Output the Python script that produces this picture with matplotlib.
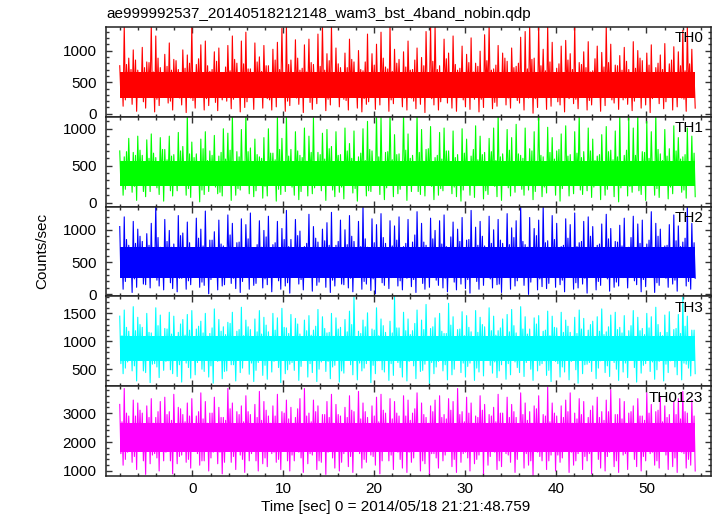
import numpy as np
import matplotlib
matplotlib.use("Agg")
import matplotlib.pyplot as plt
from matplotlib.ticker import MultipleLocator

plt.rcParams['font.family'] = ['Liberation Sans', 'DejaVu Sans']

title = "ae999992537_20140518212148_wam3_bst_4band_nobin.qdp"
xlabel = "Time [sec] 0 = 2014/05/18 21:21:48.759"
ylabel = "Counts/sec"

# light curve start time and sample step (sec)
# samples run: peak, shallow dip, shallow peak, deep dip, next peak ...
t_start = -8.0
t_step = 0.124

names = ["TH0", "TH1", "TH2", "TH3", "TH0123"]
colors = ["#ff0000", "#00ff00", "#0000ff", "#00ffff", "#ff00ff"]
ylims = [(-47, 1372), (-54, 1162), (-31, 1359), (196, 1804), (826, 3930)]
ymajor = [500, 500, 500, 500, 1000]
yminor = [100, 100, 100, 100, 200]
# dense part of each band (Counts/sec)
core = [(250, 660), (220, 560), (260, 730), (650, 1100), (1650, 2650)]

# ---- TH0 ----
th0_hi = [760, 1400, 880, 1010, 690, 1050, 820, 1400, 1230, 730, 940, 1120, 860, 700, 1010, 930,
          1400, 780, 1090, 1150, 670, 980, 1040, 620, 1080, 1230, 800, 1150, 1290, 710, 1120, 900,
          1080, 760, 1020, 1130, 1350, 1400, 850, 1170, 690, 1090, 1180, 780, 1260, 1400, 950, 1400,
          1040, 730, 960, 1180, 820, 1000, 680, 1260, 950, 1100, 1290, 740, 1400, 1020, 860, 980,
          1150, 700, 1040, 890, 1300, 1400, 1400, 760, 1180, 960, 1230, 690, 1070, 940, 1200, 800,
          990, 1250, 1400, 710, 1080, 960, 830, 1040, 750, 1210, 1300, 1400, 880, 1400, 1020, 1400,
          1130, 720, 1070, 1160, 950, 1400, 810, 980, 1140, 680, 1070, 970, 1400, 1100, 770, 920,
          1050, 700, 1140, 1000, 840, 960, 1090, 730, 930, 1110, 790, 1060, 980, 1320, 1400, 1020]
th0_mhi = [620, 780, 700, 850, 590, 730, 810, 660, 880, 610, 750, 690, 840, 570, 720, 800,
           650, 870, 600, 760, 700, 830, 580, 740, 680, 860, 620, 790, 710, 550, 820, 670,
           760, 600, 850, 700, 640, 780, 590, 880, 720, 660, 810, 570, 750, 690, 840, 610,
           790, 650, 730, 860, 580, 700, 820, 640, 770, 600, 880, 710, 670, 800, 560, 740,
           690, 850, 620, 760, 590, 830, 700, 650, 870, 610, 780, 720, 560, 810, 660, 750,
           600, 840, 690, 770, 630, 880, 570, 730, 800, 650, 710, 860, 590, 760, 680, 820,
           640, 790, 570, 850, 700, 620, 780, 730, 660, 870, 600, 740, 810, 580, 760, 690,
           830, 610, 720, 880, 650, 770, 590, 800, 700, 640, 850, 620, 760, 680, 790, 600]
th0_mlo = [300, 220, 380, 260, 410, 190, 340, 280, 230, 400, 310, 200, 360, 250, 420, 290,
           210, 370, 320, 240, 390, 180, 330, 270, 410, 230, 350, 300, 190, 380, 260, 340,
           400, 220, 310, 280, 360, 200, 420, 250, 330, 290, 180, 390, 270, 350, 230, 310,
           260, 400, 210, 340, 300, 380, 240, 190, 360, 320, 270, 410, 220, 350, 290, 250,
           370, 200, 330, 280, 410, 240, 310, 190, 390, 260, 350, 300, 220, 380, 270, 340,
           230, 400, 290, 180, 360, 320, 250, 410, 210, 330, 280, 370, 240, 300, 390, 260,
           350, 190, 320, 400, 270, 230, 380, 300, 210, 340, 260, 420, 290, 220, 360, 310,
           250, 390, 200, 330, 280, 370, 240, 410, 300, 190, 350, 270, 320, 230, 380, 290]
th0_lo = [120, 300, 150, 40, 260, 90, 360, 30, 130, 280, 170, 60, 330, 140, 20, 250,
          90, 310, 60, 130, 370, 50, 220, 200, 80, 340, 30, 100, 280, 70, 390, 90,
          240, 60, 110, 320, 40, 130, 290, 150, 20, 350, 70, 160, 260, 50, 140, 310,
          110, 230, 60, 380, 90, 30, 150, 300, 70, 140, 270, 40, 160, 330, 110, 60,
          250, 80, 150, 20, 360, 140, 60, 290, 170, 90, 40, 310, 110, 70, 230, 30,
          100, 350, 80, 120, 270, 140, 90, 330, 170, 60, 250, 10, 100, 380, 70, 120,
          290, 140, 30, 240, 160, 80, 340, 60, 140, 260, 40, 130, 300, 170, 70, 220,
          150, 50, 360, 90, 140, 20, 280, 160, 80, 320, 60, 110, 250, 40, 340, 90]

# ---- TH1 ----
th1_hi = [700, 620, 870, 680, 900, 640, 850, 930, 610, 880, 720, 900, 650, 950, 760, 1200,
          820, 660, 860, 960, 700, 910, 630, 1000, 940, 1200, 690, 990, 1200, 740, 860, 620,
          880, 1000, 670, 1180, 870, 1200, 720, 960, 640, 1010, 900, 1150, 680, 940, 990, 760,
          960, 650, 1010, 800, 970, 620, 1000, 1100, 700, 1200, 1150, 680, 1200, 920, 660, 1200,
          930, 640, 1200, 990, 720, 1030, 610, 950, 1010, 700, 970, 650, 1000, 860, 630, 1040,
          900, 680, 870, 1010, 1200, 660, 990, 880, 1060, 640, 1010, 730, 960, 1200, 620, 1020,
          880, 700, 930, 1040, 650, 960, 1200, 690, 1010, 860, 630, 920, 1030, 710, 970, 1200,
          640, 1150, 1010, 1200, 690, 1100, 960, 1200, 660, 990, 730, 1040, 880, 620, 1010, 900]
th1_mhi = [560, 690, 520, 640, 710, 490, 600, 670, 540, 720, 580, 630, 480, 700, 550, 660,
           610, 500, 730, 570, 640, 520, 680, 590, 710, 470, 620, 560, 690, 530, 650, 600,
           500, 670, 580, 720, 540, 630, 490, 700, 610, 560, 680, 520, 650, 590, 730, 480,
           640, 550, 700, 600, 510, 670, 570, 720, 530, 620, 490, 690, 580, 650, 540, 710,
           600, 520, 680, 560, 730, 500, 640, 590, 700, 550, 610, 480, 670, 530, 720, 580,
           650, 500, 690, 570, 620, 540, 710, 490, 660, 600, 530, 700, 560, 640, 510, 680,
           590, 720, 550, 630, 480, 670, 610, 530, 700, 570, 650, 520, 690, 580, 620, 500,
           710, 560, 640, 530, 680, 600, 490, 720, 570, 630, 540, 700, 590, 650, 520, 670]
th1_mlo = [260, 180, 340, 220, 300, 150, 370, 240, 200, 330, 270, 160, 310, 230, 380, 190,
           280, 350, 170, 250, 320, 210, 140, 360, 260, 300, 190, 340, 230, 280, 160, 370,
           220, 300, 250, 180, 350, 270, 210, 330, 150, 290, 360, 200, 260, 320, 240, 170,
           380, 210, 280, 340, 190, 250, 310, 160, 370, 230, 290, 200, 350, 260, 180, 320,
           240, 300, 150, 360, 270, 220, 330, 190, 280, 350, 210, 250, 170, 310, 370, 230,
           290, 160, 340, 220, 260, 380, 200, 300, 240, 180, 330, 270, 150, 350, 210, 290,
           250, 320, 190, 360, 230, 280, 170, 340, 260, 210, 300, 370, 180, 240, 330, 200,
           350, 220, 290, 160, 310, 260, 380, 190, 270, 330, 210, 250, 360, 170, 300, 240]
th1_lo = [100, 280, 140, 30, 320, 80, 150, 260, 110, 20, 340, 90, 160, 240, 100, 70,
          300, 10, 110, 150, 270, 120, 90, 330, 30, 100, 170, 290, 120, 80, 250, 60,
          90, 310, 20, 110, 150, 280, 100, 40, 340, 90, 120, 260, 160, 30, 300, 80,
          140, 50, 270, 130, 20, 320, 90, 150, 250, 110, 40, 290, 80, 120, 330, 30,
          150, 260, 110, 90, 300, 40, 100, 160, 270, 120, 80, 20, 340, 100, 70, 250,
          50, 110, 290, 80, 30, 320, 90, 140, 260, 100, 170, 40, 310, 80, 130, 240,
          100, 20, 280, 90, 120, 330, 110, 160, 70, 260, 40, 100, 300, 80, 10, 270,
          90, 140, 320, 110, 30, 250, 100, 70, 290, 50, 120, 340, 140, 60, 280, 80]

# ---- TH2 ----
th2_hi = [1050, 1200, 760, 1130, 1010, 820, 940, 1100, 1380, 730, 1160, 990, 780, 1220, 950, 1120,
          720, 1180, 1010, 1290, 840, 970, 1150, 750, 1230, 1100, 800, 1170, 1080, 1260, 710, 1140,
          990, 1210, 770, 1130, 1020, 1300, 850, 1160, 980, 740, 1240, 1050, 810, 1010, 1110, 1270,
          760, 1150, 1000, 1220, 820, 1130, 1380, 730, 1170, 1080, 1250, 790, 1140, 1060, 1200, 740,
          1160, 810, 1280, 1100, 760, 1180, 990, 1140, 1230, 720, 1120, 1010, 1190, 840, 1300, 1040,
          1130, 750, 1210, 1000, 1160, 790, 1250, 1030, 1140, 1380, 770, 1190, 1020, 1150, 1380, 830,
          1220, 1100, 740, 1170, 1080, 1260, 800, 1130, 1200, 1050, 760, 1090, 1240, 1020, 820, 1070,
          1180, 730, 1210, 1090, 1150, 780, 1280, 1100, 1010, 750, 1080, 1230, 1060, 810, 1380, 1100]
th2_mhi = [700, 850, 640, 790, 900, 620, 760, 680, 880, 600, 820, 730, 660, 910, 710, 800,
           630, 870, 750, 690, 840, 590, 780, 720, 920, 650, 810, 700, 860, 610, 770, 730,
           890, 660, 800, 620, 850, 740, 680, 910, 600, 790, 710, 870, 640, 830, 760, 690,
           820, 580, 770, 900, 650, 740, 860, 620, 800, 700, 880, 660, 750, 840, 610, 790,
           720, 920, 640, 810, 690, 860, 600, 780, 740, 890, 630, 820, 700, 850, 660, 760,
           900, 620, 790, 710, 840, 650, 770, 880, 590, 820, 730, 680, 910, 640, 800, 700,
           850, 610, 760, 870, 690, 740, 820, 630, 900, 670, 780, 720, 860, 600, 810, 750,
           690, 880, 640, 790, 720, 840, 610, 900, 700, 760, 650, 830, 740, 870, 620, 800]
th2_mlo = [280, 200, 370, 240, 320, 160, 400, 260, 220, 350, 300, 180, 390, 250, 330, 210,
           410, 270, 190, 340, 230, 380, 290, 150, 360, 250, 310, 200, 420, 270, 170, 330,
           240, 390, 300, 210, 350, 180, 280, 400, 230, 320, 260, 370, 190, 340, 290, 220,
           380, 160, 310, 250, 410, 270, 200, 350, 240, 300, 180, 390, 260, 330, 210, 370,
           290, 230, 400, 170, 340, 280, 220, 360, 250, 310, 190, 420, 270, 230, 350, 200,
           320, 380, 240, 290, 160, 370, 260, 330, 210, 400, 280, 190, 350, 240, 310, 170,
           390, 260, 220, 340, 300, 180, 410, 250, 280, 360, 200, 320, 240, 380, 190, 300,
           270, 350, 210, 400, 230, 330, 290, 180, 370, 250, 310, 220, 390, 260, 200, 340]
th2_lo = [80, 340, 30, 110, 280, 150, 100, 360, 130, 70, 300, 90, 40, 250, 80, 150,
          320, 110, 140, 10, 270, 70, 130, 350, 170, 90, 30, 290, 80, 140, 330, 100,
          150, 40, 260, 80, 130, 20, 310, 160, 70, 370, 50, 140, 280, 110, 30, 130,
          300, 150, 100, 40, 340, 80, 160, 60, 10, 270, 140, 90, 320, 130, 70, 250,
          120, 30, 290, 80, 110, 360, 140, 100, 40, 300, 70, 160, 90, 20, 330, 80,
          140, 260, 100, 150, 30, 310, 80, 130, 280, 140, 0, 350, 70, 120, 90, 270,
          110, 150, 40, 320, 80, 100, 160, 20, 290, 70, 140, 360, 50, 110, 130, 260,
          100, 300, 150, 40, 120, 340, 30, 140, 270, 110, 160, 50, 310, 130, 80, 250]

# ---- TH3 ----
th3_hi = [1450, 1560, 1180, 1620, 1430, 1250, 1500, 1150, 1600, 1470, 1230, 1520, 1450, 1160, 1390, 1480,
          1550, 1220, 1360, 1500, 1140, 1580, 1390, 1260, 1340, 1520, 1180, 1610, 1380, 1210, 1400, 1550,
          1430, 1170, 1500, 1420, 1590, 1240, 1480, 1410, 1130, 1380, 1460, 1200, 1570, 1440, 1150, 1500,
          1420, 1250, 1390, 1540, 1800, 1180, 1380, 1510, 1220, 1600, 1400, 1160, 1360, 1800, 1240, 1520,
          1400, 1190, 1560, 1380, 1660, 1230, 1420, 1500, 1140, 1680, 1440, 1210, 1530, 1460, 1170, 1550,
          1430, 1260, 1600, 1450, 1190, 1400, 1480, 1570, 1150, 1620, 1440, 1220, 1420, 1460, 1180, 1540,
          1450, 1240, 1520, 1380, 1160, 1430, 1560, 1410, 1200, 1360, 1440, 1580, 1170, 1470, 1520, 1250,
          1460, 1190, 1550, 1430, 1230, 1500, 1440, 1610, 1160, 1470, 1530, 1210, 1480, 1800, 1450, 1200]
th3_mhi = [1100, 1250, 1040, 1190, 1300, 1020, 1160, 1080, 1280, 1000, 1220, 1130, 1060, 1310, 1110, 1200,
           1030, 1270, 1150, 1090, 1240, 990, 1180, 1120, 1320, 1050, 1210, 1100, 1260, 1010, 1170, 1130,
           1290, 1060, 1200, 1020, 1250, 1140, 1080, 1310, 1000, 1190, 1110, 1270, 1040, 1230, 1160, 1090,
           1220, 980, 1170, 1300, 1050, 1140, 1260, 1020, 1200, 1100, 1280, 1060, 1150, 1240, 1010, 1190,
           1120, 1320, 1040, 1210, 1090, 1260, 1000, 1180, 1140, 1290, 1030, 1220, 1100, 1250, 1060, 1160,
           1300, 1020, 1190, 1110, 1240, 1050, 1170, 1280, 990, 1220, 1130, 1080, 1310, 1040, 1200, 1100,
           1250, 1010, 1160, 1270, 1090, 1140, 1220, 1030, 1300, 1070, 1180, 1120, 1260, 1000, 1210, 1150,
           1090, 1280, 1040, 1190, 1120, 1240, 1010, 1300, 1100, 1160, 1050, 1230, 1140, 1270, 1020, 1200]
th3_mlo = [600, 520, 720, 560, 680, 470, 750, 590, 540, 700, 640, 490, 760, 580, 690, 530,
           780, 620, 500, 710, 560, 740, 650, 460, 730, 580, 670, 520, 770, 610, 480, 690,
           570, 750, 640, 530, 710, 490, 620, 760, 550, 680, 600, 730, 500, 700, 640, 540,
           740, 470, 660, 580, 770, 610, 520, 710, 570, 650, 490, 750, 600, 690, 530, 720,
           640, 560, 760, 480, 700, 620, 540, 730, 580, 660, 500, 780, 610, 550, 710, 520,
           680, 740, 570, 630, 470, 720, 600, 690, 530, 760, 620, 500, 710, 570, 650, 480,
           750, 600, 540, 700, 640, 490, 770, 580, 620, 730, 520, 680, 560, 740, 500, 660,
           610, 710, 530, 760, 570, 690, 630, 490, 720, 590, 650, 540, 750, 610, 520, 700]
th3_lo = [420, 630, 470, 290, 680, 440, 260, 600, 350, 480, 650, 420, 370, 270, 610, 340,
          400, 690, 460, 360, 250, 640, 330, 470, 580, 290, 440, 670, 410, 280, 620, 390,
          320, 450, 660, 260, 420, 590, 480, 300, 700, 360, 440, 280, 630, 460, 330, 570,
          270, 430, 680, 400, 310, 470, 600, 260, 420, 650, 450, 300, 390, 620, 360, 290,
          670, 330, 460, 590, 250, 420, 640, 470, 310, 400, 690, 440, 360, 610, 300, 450,
          380, 660, 430, 350, 580, 320, 400, 630, 440, 370, 680, 300, 470, 600, 390, 280,
          640, 360, 450, 310, 690, 250, 420, 590, 460, 330, 650, 440, 370, 620, 300, 450,
          350, 670, 270, 430, 600, 460, 320, 640, 290, 440, 680, 400, 310, 590, 380, 420]

# ---- TH0123 ----
th0123_hi = [3300, 3850, 2900, 3450, 3350, 3000, 3250, 3500, 2850, 3400, 3550, 3050, 3650, 3200, 2950, 3350,
             3500, 2900, 3700, 3400, 3000, 3550, 3200, 2850, 3850, 3350, 3050, 3250, 3600, 2950, 3300, 3750,
             3400, 2900, 3250, 3650, 3050, 3450, 3200, 2850, 3500, 3850, 3000, 3450, 3250, 2950, 3400, 3650,
             3300, 2900, 3200, 3600, 3050, 3750, 3350, 2850, 3250, 3550, 3650, 3000, 3500, 3400, 2900, 3600,
             3450, 3000, 3700, 3350, 2850, 3250, 3450, 3600, 2950, 3500, 3400, 3850, 3050, 3550, 3350, 2900,
             3600, 3300, 2950, 3200, 3650, 3000, 3550, 3300, 2850, 3700, 3350, 3050, 3250, 3600, 2950, 3900,
             3350, 2900, 3250, 3450, 3700, 3000, 3500, 3400, 2850, 3250, 3550, 3050, 3450, 3800, 2950, 3500,
             3400, 3000, 3250, 3500, 2900, 3700, 3300, 3050, 3550, 3250, 2950, 3400, 3500, 3750, 3000, 3450]
th0123_mhi = [2700, 3000, 2600, 2900, 3100, 2550, 2850, 2650, 3050, 2500, 2950, 2750, 2600, 3150, 2700, 2900,
              2550, 3050, 2800, 2650, 3000, 2500, 2850, 2750, 3150, 2600, 2950, 2700, 3050, 2550, 2850, 2750,
              3100, 2650, 2900, 2550, 3000, 2800, 2650, 3150, 2500, 2900, 2700, 3050, 2600, 2950, 2850, 2650,
              2950, 2500, 2850, 3100, 2600, 2800, 3050, 2550, 2900, 2700, 3100, 2650, 2800, 3000, 2550, 2900,
              2750, 3150, 2600, 2950, 2650, 3050, 2500, 2850, 2800, 3100, 2550, 2950, 2700, 3000, 2650, 2850,
              3100, 2550, 2900, 2700, 3000, 2600, 2850, 3050, 2500, 2950, 2750, 2650, 3150, 2600, 2900, 2700,
              3000, 2550, 2850, 3050, 2650, 2800, 2950, 2550, 3100, 2650, 2850, 2750, 3050, 2500, 2950, 2800,
              2650, 3050, 2600, 2900, 2750, 3000, 2550, 3100, 2700, 2850, 2600, 2950, 2800, 3050, 2550, 2900]
th0123_mlo = [1600, 1400, 1850, 1500, 1750, 1350, 1950, 1550, 1450, 1800, 1650, 1350, 1900, 1500, 1700, 1400,
              2000, 1600, 1350, 1800, 1450, 1900, 1650, 1300, 1850, 1500, 1700, 1400, 1950, 1600, 1350, 1750,
              1450, 1900, 1650, 1400, 1800, 1350, 1550, 1950, 1450, 1700, 1600, 1850, 1350, 1800, 1650, 1450,
              1900, 1300, 1700, 1500, 2000, 1600, 1400, 1800, 1500, 1700, 1350, 1900, 1550, 1750, 1400, 1850,
              1650, 1450, 1950, 1350, 1800, 1600, 1450, 1850, 1550, 1700, 1400, 2000, 1600, 1450, 1800, 1400,
              1750, 1900, 1500, 1650, 1350, 1850, 1550, 1750, 1400, 1950, 1600, 1350, 1800, 1500, 1700, 1350,
              1900, 1550, 1450, 1800, 1650, 1350, 1950, 1500, 1600, 1850, 1400, 1700, 1500, 1900, 1350, 1700,
              1600, 1800, 1400, 1950, 1500, 1750, 1650, 1350, 1850, 1550, 1700, 1450, 1900, 1600, 1400, 1800]
th0123_lo = [1200, 1650, 1300, 1050, 1750, 880, 1250, 1600, 1000, 1350, 1700, 900, 1250, 1550, 1300, 1100,
             1800, 1200, 1350, 1000, 1650, 1250, 900, 1700, 1300, 1050, 1550, 950, 1350, 1750, 1000, 1250,
             1150, 1600, 1300, 1050, 1700, 1000, 1350, 1650, 950, 1250, 1550, 1050, 1300, 880, 1750, 1100,
             1000, 1600, 1150, 950, 1700, 1100, 1300, 1550, 1200, 900, 1750, 1350, 1050, 1650, 1100, 950,
             1300, 1700, 1000, 1250, 900, 1600, 1100, 1350, 1750, 1150, 950, 1300, 1650, 1000, 1250, 1550,
             900, 1200, 1700, 1050, 1150, 1600, 1300, 950, 1750, 1100, 1200, 850, 1650, 1350, 1050, 1550,
             1000, 1300, 1700, 950, 1200, 1600, 1050, 1350, 900, 1750, 1100, 1000, 1650, 1150, 950, 1550,
             1050, 1700, 1150, 1000, 1350, 1600, 1200, 1100, 1750, 1050, 1150, 950, 1650, 1100, 1200, 1000]

series = [
    (th0_hi, th0_mlo, th0_mhi, th0_lo),
    (th1_hi, th1_mlo, th1_mhi, th1_lo),
    (th2_hi, th2_mlo, th2_mhi, th2_lo),
    (th3_hi, th3_mlo, th3_mhi, th3_lo),
    (th0123_hi, th0123_mlo, th0123_mhi, th0123_lo),
]

fig, axes = plt.subplots(5, 1, sharex=True, figsize=(7.17, 5.16), dpi=100)
fig.subplots_adjust(left=0.148, right=0.9916, top=0.9477, bottom=0.0775, hspace=0)

for k, ax in enumerate(axes):
    parts = series[k]
    n = min(len(p) for p in parts)
    y = np.column_stack([p[:n] for p in parts]).ravel()
    t = t_start + t_step * np.arange(len(y))
    ax.fill_between([t[0], t[-1]], core[k][0], core[k][1], color=colors[k], lw=0)
    ax.plot(t, y, color=colors[k], lw=0.8)
    ax.set_ylim(*ylims[k])
    ax.set_xlim(-9.5, 57.1)
    ax.yaxis.set_major_locator(MultipleLocator(ymajor[k]))
    ax.yaxis.set_minor_locator(MultipleLocator(yminor[k]))
    ax.xaxis.set_major_locator(MultipleLocator(10))
    ax.xaxis.set_minor_locator(MultipleLocator(2))
    ax.tick_params(which='both', direction='in', top=True, right=True,
                   color='#333333', width=1.0, labelsize=11, pad=7)
    ax.tick_params(which='major', length=4.5)
    ax.tick_params(which='minor', length=2.5)
    for sp in ax.spines.values():
        sp.set_linewidth(1.1)
        sp.set_color('#222222')
    ax.text(0.987, 0.95, names[k], transform=ax.transAxes, ha='right', va='top',
            fontsize=11)

axes[-1].tick_params(axis='x', pad=4)

fig.text(106 / 717, 1 - 18 / 516, title, ha='left', va='baseline', fontsize=11)
fig.text(42 / 717, 1 - 251 / 516, ylabel, rotation=90, ha='center', va='center', fontsize=11)
fig.text(396 / 717, 1 - 507 / 516, xlabel, ha='center', va='center', fontsize=11)

fig.savefig("out.png", dpi=100)
